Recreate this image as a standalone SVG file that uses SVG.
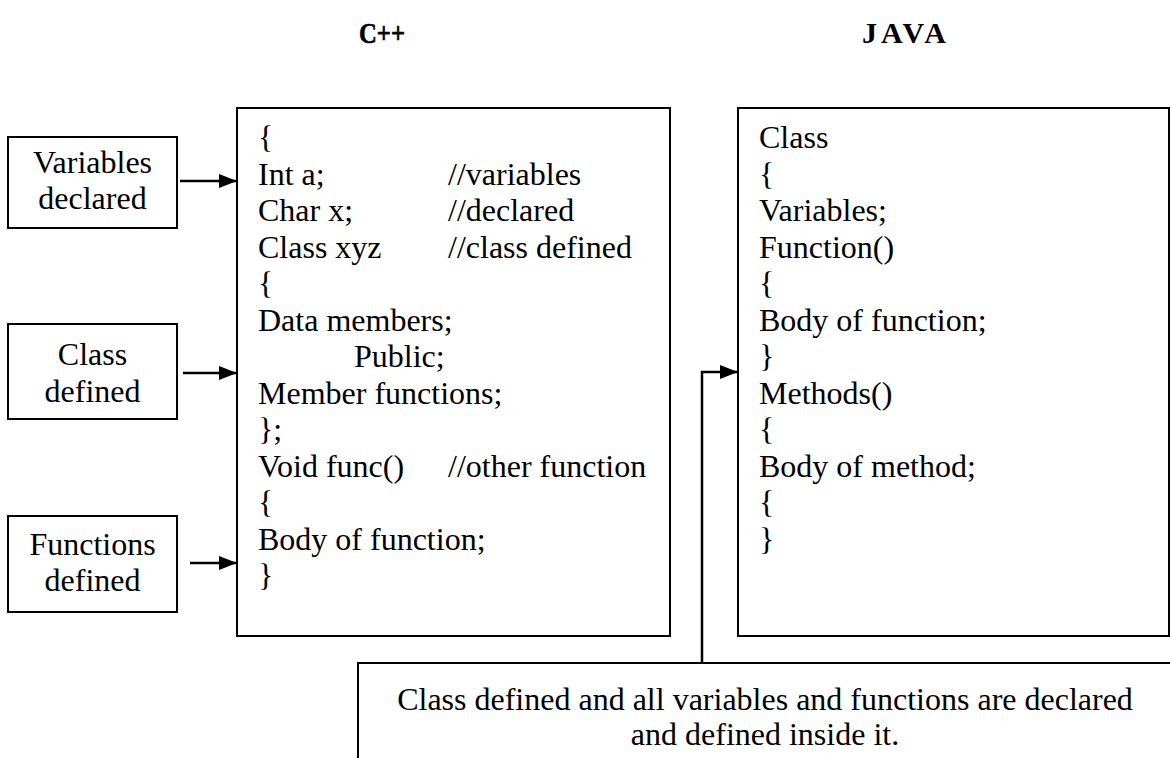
<svg xmlns="http://www.w3.org/2000/svg" width="1170" height="758" viewBox="0 0 1170 758">
  <style>
    .box { fill: #fff; stroke: #000; stroke-width: 2; }
    .t { font-family: "Liberation Serif", "Times New Roman", serif; font-size: 32px; fill: #000; }
    .c { text-anchor: middle; }
    .hd { font-family: "Liberation Serif", "Times New Roman", serif; font-size: 30px; font-weight: bold; fill: #000; }
    .wire { fill: none; stroke: #000; stroke-width: 2.5; }
  </style>
  <defs>
    <marker id="arrow" viewBox="0 0 18 14" refX="18" refY="7" markerWidth="18" markerHeight="14" markerUnits="userSpaceOnUse" orient="auto">
      <path d="M0,0 L18,7 L0,14 Z" fill="#000"/>
    </marker>
  </defs>
  <rect width="1170" height="758" fill="#fff"/>

  <!-- column headings -->
  <g id="heading-cpp"><text class="hd" x="359" y="43" textLength="46" lengthAdjust="spacingAndGlyphs" stroke="#000" stroke-width="0.6">C++</text></g>
  <g id="heading-java"><text class="hd" x="862" y="43" textLength="84">JAVA</text></g>

  <!-- side labels -->
  <g id="variables-declared">
    <rect class="box" x="8" y="137" width="169" height="91"/>
    <text class="t c" x="92.5" y="173">Variables</text>
    <text class="t c" x="92.5" y="209">declared</text>
  </g>
  <g id="class-defined">
    <rect class="box" x="8" y="324" width="169" height="95"/>
    <text class="t c" x="92.5" y="365">Class</text>
    <text class="t c" x="92.5" y="402">defined</text>
  </g>
  <g id="functions-defined">
    <rect class="box" x="8" y="516" width="169" height="96"/>
    <text class="t c" x="92.5" y="555">Functions</text>
    <text class="t c" x="92.5" y="591">defined</text>
  </g>

  <!-- C++ program layout -->
  <g id="cpp-program">
    <rect class="box" x="237" y="108" width="433" height="528"/>
    <text class="t" x="258" y="148">{</text>
    <text class="t" x="258" y="184.5">Int a;</text>
    <text class="t" x="448" y="184.5">//variables</text>
    <text class="t" x="258" y="221">Char x;</text>
    <text class="t" x="448" y="221">//declared</text>
    <text class="t" x="258" y="257.5">Class xyz</text>
    <text class="t" x="448" y="257.5">//class defined</text>
    <text class="t" x="258" y="294">{</text>
    <text class="t" x="258" y="330.5">Data members;</text>
    <text class="t" x="354" y="367">Public;</text>
    <text class="t" x="258" y="403.5">Member functions;</text>
    <text class="t" x="258" y="440">};</text>
    <text class="t" x="258" y="476.5">Void func()</text>
    <text class="t" x="448" y="476.5">//other function</text>
    <text class="t" x="258" y="513">{</text>
    <text class="t" x="258" y="549.5">Body of function;</text>
    <text class="t" x="258" y="586">}</text>
  </g>

  <!-- Java program layout -->
  <g id="java-program">
    <rect class="box" x="738" y="108" width="431" height="528"/>
    <text class="t" x="759" y="148">Class</text>
    <text class="t" x="759" y="184.5">{</text>
    <text class="t" x="759" y="221">Variables;</text>
    <text class="t" x="759" y="257.5">Function()</text>
    <text class="t" x="759" y="294">{</text>
    <text class="t" x="759" y="330.5">Body of function;</text>
    <text class="t" x="759" y="367">}</text>
    <text class="t" x="759" y="403.5">Methods()</text>
    <text class="t" x="759" y="440">{</text>
    <text class="t" x="759" y="476.5">Body of method;</text>
    <text class="t" x="759" y="513">{</text>
    <text class="t" x="759" y="549.5">}</text>
  </g>

  <!-- note about Java classes -->
  <g id="java-note">
    <rect class="box" x="358" y="663" width="816" height="110"/>
    <text class="t c" x="765" y="710">Class defined and all variables and functions are declared</text>
    <text class="t c" x="765" y="745">and defined inside it.</text>
  </g>

  <!-- connectors -->
  <g id="connectors">
    <line class="wire" x1="180" y1="181" x2="237" y2="181" marker-end="url(#arrow)"/>
    <line class="wire" x1="183" y1="373" x2="237" y2="373" marker-end="url(#arrow)"/>
    <line class="wire" x1="190" y1="563" x2="237" y2="563" marker-end="url(#arrow)"/>
    <polyline class="wire" points="702,662 702,372 738,372" marker-end="url(#arrow)"/>
  </g>
</svg>
